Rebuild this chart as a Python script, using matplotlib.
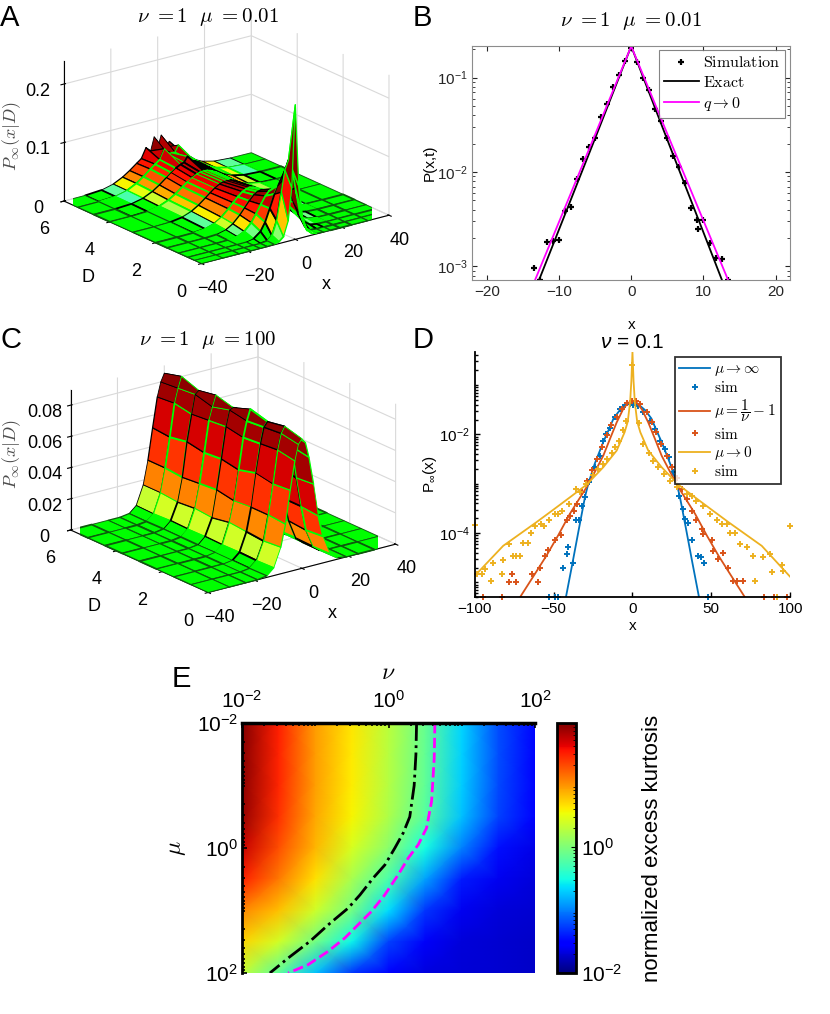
import numpy as np
import matplotlib
matplotlib.use('Agg')
import matplotlib.pyplot as plt
from matplotlib import colors, ticker
from matplotlib.font_manager import FontProperties

plt.rcParams['font.family'] = ['Liberation Sans', 'DejaVu Sans']
plt.rcParams['mathtext.fontset'] = 'custom'
plt.rcParams['mathtext.rm'] = 'Liberation Sans'
plt.rcParams['mathtext.it'] = 'Liberation Sans:italic'
plt.rcParams['mathtext.bf'] = 'Liberation Sans:bold'
plt.rcParams['mathtext.fallback'] = 'cm'
plt.rcParams['xtick.direction'] = 'in'
plt.rcParams['ytick.direction'] = 'in'

# ---------------- data ----------------
# panels A / C : half profile in x (mirrored), one row per D
surf_x_half = np.array([0, 1.5, 3, 5, 7, 9, 12, 15, 19, 24, 31, 40])
a_D = np.array([0, 0.3, 0.6, 1, 1.5, 2, 3, 4, 4.7, 5.4, 6])
a_P = np.array([
    [0.230, 0.090, 0.035, 0.010, 0.003, 0.0008, 0.0001, 0, 0, 0, 0, 0],
    [0.130, 0.115, 0.079, 0.032, 0.0086, 0.0014, 0.0001, 0, 0, 0, 0, 0],
    [0.088, 0.083, 0.070, 0.0475, 0.026, 0.012, 0.0025, 0.0003, 0, 0, 0, 0],
    [0.068, 0.066, 0.0595, 0.047, 0.033, 0.020, 0.008, 0.0024, 0.0003, 0, 0, 0],
    [0.058, 0.0566, 0.0526, 0.0443, 0.0342, 0.0242, 0.0122, 0.0051, 0.0012, 0.0001, 0, 0],
    [0.053, 0.052, 0.049, 0.0424, 0.0343, 0.0258, 0.0147, 0.0072, 0.0021, 0.0003, 0, 0],
    [0.047, 0.0463, 0.0442, 0.0395, 0.0335, 0.0268, 0.0173, 0.0099, 0.0039, 0.0009, 0.0001, 0],
    [0.046, 0.0454, 0.0435, 0.0394, 0.034, 0.0279, 0.0189, 0.0115, 0.005, 0.0013, 0.0001, 0],
    [0.058, 0.0494, 0.0474, 0.0433, 0.0377, 0.0313, 0.0217, 0.0136, 0.0062, 0.0018, 0.0002, 0],
    [0.052, 0.0514, 0.062, 0.0453, 0.0396, 0.0332, 0.0234, 0.015, 0.007, 0.0021, 0.0003, 0],
    [0.050, 0.070, 0.0476, 0.055, 0.0385, 0.0325, 0.0232, 0.0151, 0.0073, 0.0023, 0.0003, 0],
])
c_D = np.array([0, 0.75, 1.5, 2.25, 3, 3.75, 4.5, 5.25, 6])
c_P = np.array([
    [0.083, 0.080, 0.070, 0.052, 0.031, 0.017, 0.0050, 0.0010, 0, 0, 0, 0],
    [0.086, 0.082, 0.072, 0.051, 0.032, 0.016, 0.0046, 0.0008, 0, 0, 0, 0],
    [0.084, 0.081, 0.071, 0.053, 0.032, 0.017, 0.0049, 0.0009, 0, 0, 0, 0],
    [0.087, 0.080, 0.070, 0.050, 0.031, 0.018, 0.0047, 0.0010, 0, 0, 0, 0],
    [0.083, 0.082, 0.072, 0.052, 0.033, 0.016, 0.0050, 0.0008, 0, 0, 0, 0],
    [0.086, 0.079, 0.071, 0.051, 0.032, 0.017, 0.0048, 0.0009, 0, 0, 0, 0],
    [0.084, 0.082, 0.070, 0.053, 0.031, 0.016, 0.0051, 0.0010, 0, 0, 0, 0],
    [0.088, 0.081, 0.072, 0.051, 0.032, 0.017, 0.0046, 0.0008, 0, 0, 0, 0],
    [0.085, 0.080, 0.071, 0.052, 0.032, 0.017, 0.0049, 0.0009, 0, 0, 0, 0],
])

# panel B
b_sim_x = [-13.4, -12.65, -11.6, -10.8, -10.0, -9.1, -8.4, -7.5, -6.7, -5.85, -5.0, -4.2,
           -3.33, -2.5, -1.7, -0.87, 0.0, 0.82, 1.64, 2.47, 3.33, 4.16, 4.98, 5.8, 6.62,
           7.44, 8.26, 9.13, 9.2, 10.0, 10.96, 11.8, 12.6, 13.4]
b_sim_y = [9.6e-4, 7.2e-4, 1.8e-3, 1.88e-3, 1.9e-3, 3.9e-3, 4.3e-3, 8.4e-3, 0.0137, 0.0186,
           0.0228, 0.038, 0.052, 0.079, 0.106, 0.151, 0.204, 0.148, 0.100, 0.073, 0.047,
           0.035, 0.0228, 0.0148, 0.0114, 7.7e-3, 4.2e-3, 3.07e-3, 2.5e-3, 3.07e-3, 1.77e-3,
           1.22e-3, 1.2e-3, 7.2e-4]
b_exact_x = [-12.75, -10, -5, 0, 5, 10, 12.55]
b_exact_y = [7.2e-4, 2.45e-3, 0.0227, 0.215, 0.0219, 2.29e-3, 7.2e-4]
b_q0_x = [-13.3, -10, -5, 0, 5, 10, 13.4]
b_q0_y = [7.2e-4, 2.95e-3, 0.0249, 0.215, 0.0253, 3.05e-3, 7.2e-4]

# panel D
d_inf_x = [-42.2, -38, -34, -30, -28, -24, -18.5, -15, -12, -8, -4, 0,
           4, 8, 12, 15, 18.5, 24, 28, 30, 34, 38, 42.2]
d_inf_y = [5e-6, 2.5e-5, 1.2e-4, 5.6e-4, 1.0e-3, 2.5e-3, 7e-3, 0.0125, 0.021, 0.031, 0.040, 0.042,
           0.040, 0.031, 0.021, 0.0125, 7e-3, 2.5e-3, 1.0e-3, 5.6e-4, 1.2e-4, 2.5e-5, 5e-6]
d_mid_x = [-71.3, -62, -54.5, -47, -39.7, -34, -29.1, -24, -18.5, -14, -10, -6, -3, 0,
           3, 6, 10, 14, 18.5, 24, 29.1, 34, 39.7, 47, 54.5, 62, 71.3]
d_mid_y = [5e-6, 1.46e-5, 3.5e-5, 9.1e-5, 2.45e-4, 4.8e-4, 8.5e-4, 1.7e-3, 3.7e-3, 8.5e-3, 0.0175,
           0.032, 0.043, 0.048, 0.043, 0.032, 0.0175, 8.5e-3, 3.7e-3, 1.7e-3, 8.5e-4, 4.8e-4,
           2.45e-4, 9.1e-5, 3.5e-5, 1.46e-5, 5e-6]
d_zero_x = [-100, -82, -61, -50, -40, -29, -18.5, -10, -5, -3, -1.5, -0.7, 0,
            0.7, 1.5, 3, 5, 10, 18.5, 29, 40, 50, 61, 82, 100]
d_zero_y = [1.36e-5, 5.5e-5, 1.65e-4, 3.0e-4, 5.2e-4, 9.6e-4, 2.16e-3, 4.7e-3, 0.011, 0.018, 0.045,
            0.12, 0.47, 0.12, 0.045, 0.018, 0.011, 4.7e-3, 2.16e-3, 9.6e-4, 5.2e-4, 3.0e-4,
            1.65e-4, 5.5e-5, 1.3e-5]
d_inf_sim_x = [-52.8, -49.4, -47.3, -43.9, -41.8, -40.7, -37.5, -35.9, -33.8, -32.3, -30.2, -27.5,
               -23.9, -20.7, -18.6, -16.5, -14.4, -11.2, -8.0, -4.9, -1.7, 0.5, 3.5, 6.9, 11.1,
               14.3, 17.5, 20.6, 23.4, 25.9, 29.7, 32.3, 33.4, 35.5, 37.6, 41.8, 43.2, 45.3, 47.6]
d_inf_sim_y = [5e-6, 5e-6, 5e-6, 2e-5, 3.8e-5, 5.2e-5, 2.5e-5, 1.85e-4, 1.85e-4, 3.6e-4, 5.3e-4,
               1.1e-3, 2.2e-3, 3.7e-3, 7.5e-3, 0.0103, 0.0137, 0.0225, 0.033, 0.040, 0.041, 0.040,
               0.037, 0.028, 0.019, 0.013, 7.5e-3, 5.1e-3, 3.5e-3, 1.7e-3, 5.7e-4, 3.1e-4, 1.9e-4,
               1.6e-4, 7.1e-5, 3.5e-5, 3.2e-5, 2.5e-5, 5e-6]
d_mid_sim_x = [-94.6, -83.0, -78.2, -76.1, -74.0, -64.0, -59.8, -58.7, -55.6, -53.5, -49.2, -45.0,
               -41.8, -39.6, -37.1, -35.4, -32.3, -29.1, -25.9, -22.8, -19.6, -16.4, -13.3, -10.1,
               -6.9, -3.7, -0.6, 2.0, 4.8, 9.0, 12.1, 15.2, 18.4, 21.6, 24.8, 28.0, 31.1, 34.3,
               37.5, 40.6, 43.8, 44.9, 50.2, 51.3, 54.5, 57.7, 60.8, 64.0, 66.2, 70.4, 83.1, 89.5, 97.9]
d_mid_sim_y = [5e-6, 5e-6, 1e-5, 1.5e-5, 1e-5, 1.5e-5, 1e-5, 2e-5, 3.5e-5, 4.6e-5, 7.1e-5, 9.3e-5,
               1.8e-4, 2.2e-4, 2.85e-4, 3.9e-4, 6.7e-4, 1.16e-3, 1.86e-3, 3.2e-3, 5.5e-3, 9.5e-3,
               0.0152, 0.023, 0.033, 0.044, 0.048, 0.047, 0.042, 0.029, 0.0178, 0.011, 6.5e-3,
               3.7e-3, 2.2e-3, 1.3e-3, 7.9e-4, 4.9e-4, 2.85e-4, 1.8e-4, 1.2e-4, 9.5e-5, 7.1e-5,
               4.4e-5, 3e-5, 4e-5, 2e-5, 1.07e-5, 1.07e-5, 1.05e-5, 5e-6, 5e-6, 5e-6]
d_zero_sim_x = [-100, -98.5, -95.7, -93.6, -90.0, -88.4, -82.6, -82.0, -78.2, -75.7, -73.6, -71.5,
                -69.7, -66.1, -64.6, -61.9, -58.3, -56.2, -52.8, -49.2, -47.1, -44.6, -40.1, -35.9,
                -33.4, -29.5, -24.9, -21.7, -18.5, -16.4, -13.2, -11.1, -8.4, -5.8, -4.2, 0, 4.2,
                7.0, 10.2, 13.3, 16.5, 19.7, 23.9, 28.5, 34.3, 37.5, 40.6, 44.9, 49.1, 53.3, 56.5,
                59.7, 61.8, 65.0, 68.2, 72.4, 76.6, 77.6, 82.9, 87.1, 88.2, 91.6, 94.6, 95.6, 99.9]
d_zero_sim_y = [1.46e-4, 1.5e-5, 1.5e-5, 1.9e-5, 1.05e-5, 2.5e-5, 1.5e-5, 2.9e-5, 6.1e-5, 3.5e-5,
                3.5e-5, 3.5e-5, 6.4e-5, 6.4e-5, 9.9e-5, 1.4e-4, 1.5e-4, 1.4e-4, 1.8e-4, 2.45e-4,
                2.45e-4, 2.75e-4, 3.9e-4, 7.9e-4, 6.8e-4, 1e-3, 1.5e-3, 2e-3, 2.5e-3, 3.2e-3,
                4.1e-3, 5.5e-3, 7.5e-3, 0.012, 0.019, 0.25, 0.017, 6.5e-3, 4.1e-3, 2.95e-3,
                2.2e-3, 1.6e-3, 1.16e-3, 8.5e-4, 6.2e-4, 5.7e-4, 4.5e-4, 3.6e-4, 2.45e-4, 1.8e-4,
                1.5e-4, 1.5e-4, 1e-4, 1e-4, 6e-5, 5.1e-5, 3.5e-5, 1.07e-5, 3.2e-5, 3.8e-5,
                1.6e-5, 5e-6, 2.3e-5, 1.7e-5, 1.4e-4]

# panel E: log10 of normalized excess kurtosis on a (mu, nu) grid
e_nu_exp = [-2, -1.5, -1, -0.5, 0, 0.5, 1, 1.5, 2]
e_mu_exp = [-2, -1.5, -1, -0.5, 0, 0.5, 1, 1.5, 2]
e_logk = np.array([
    [1.95, 1.48, 0.96, 0.64, 0.28, -0.12, -0.68, -1.20, -1.48],
    [1.93, 1.47, 0.95, 0.63, 0.27, -0.13, -0.69, -1.20, -1.49],
    [1.92, 1.45, 0.94, 0.62, 0.26, -0.15, -0.70, -1.22, -1.50],
    [1.88, 1.40, 0.90, 0.58, 0.22, -0.20, -0.75, -1.25, -1.52],
    [1.72, 1.28, 0.84, 0.42, 0.06, -0.50, -1.00, -1.45, -1.64],
    [1.48, 1.10, 0.66, 0.20, -0.25, -0.88, -1.40, -1.60, -1.68],
    [1.04, 0.80, 0.38, -0.05, -0.65, -1.30, -1.60, -1.68, -1.72],
    [0.72, 0.40, -0.05, -0.55, -1.25, -1.58, -1.68, -1.72, -1.74],
    [0.32, -0.17, -0.75, -1.30, -1.55, -1.66, -1.70, -1.72, -1.75],
])
e_black_nu = [0.383, 0.374, 0.35, 0.29, 0.2, 0.086, -0.05, -0.21, -0.39, -0.55, -0.825, -1.07, -1.37, -1.62]
e_black_mu = [-2.0, -1.5, -1.0, -0.5, -0.24, 0.0, 0.27, 0.48, 0.75, 0.96, 1.23, 1.49, 1.76, 2.0]
e_mag_nu = [0.633, 0.624, 0.588, 0.519, 0.405, 0.269, 0.132, -0.05, -0.232, -0.415, -0.597, -0.825, -1.098, -1.371]
e_mag_mu = [-2.0, -1.44, -0.747, -0.32, -0.053, 0.16, 0.427, 0.747, 1.013, 1.227, 1.44, 1.653, 1.867, 2.0]

ml_blue = (0, 0.447, 0.741)
ml_red = (0.85, 0.325, 0.098)
ml_yel = (0.929, 0.694, 0.125)
lime = (0, 1, 0, 1)

fig = plt.figure(figsize=(8.3, 10.14), dpi=100)


def surface_panel(rect, Ds, Ph, zmax, zticks, cnorm, title, ty, zlab_y):
    x = np.concatenate([-surf_x_half[:0:-1], surf_x_half])
    P = np.array([np.concatenate([r[:0:-1], r]) for r in Ph])
    X, Dg = np.meshgrid(x, Ds)
    ax = fig.add_axes(rect, projection='3d')
    fc = plt.cm.jet(cnorm(np.clip(P, 1e-7, None)))
    fc[P < 0.0015] = lime
    surf = ax.plot_surface(X, Dg, P, facecolors=fc, edgecolor='k', linewidth=0.7,
                           shade=False, rstride=1, cstride=1)
    # edge colours per face: every other row of faces outlined in green
    nr, nc = P.shape[0] - 1, P.shape[1] - 1
    ec, lw = [], []
    for r in range(nr):
        for c in range(nc):
            flat = P[r:r + 2, c:c + 2].max() < 0.0015
            if flat:
                ec.append((0.05, 0.35, 0.05, 1))
                lw.append(0.6)
            elif r % 2 == 0:
                ec.append(lime)
                lw.append(1.3)
            else:
                ec.append((0, 0, 0, 1))
                lw.append(0.9)
    surf.set_edgecolor(ec)
    surf.set_linewidth(lw)
    ax.view_init(elev=20, azim=-127)
    ax.set_proj_type('ortho')
    ax.set_box_aspect((1.57, 1.53, 1.0), zoom=1.17)
    ax.set_xlim(-40, 40)
    ax.set_ylim(0, 6)
    ax.set_zlim(0, zmax)
    ax.set_xticks([-40, -20, 0, 20, 40])
    ax.set_yticks([0, 2, 4, 6])
    ax.set_zticks(zticks)
    ax.zaxis.set_major_formatter(ticker.FormatStrFormatter('%g'))
    for a in (ax.xaxis, ax.yaxis, ax.zaxis):
        a.set_pane_color((1, 1, 1, 0))
        a._axinfo['grid'].update(color=(0.85, 0.85, 0.85, 1), linewidth=0.8)
    ax.tick_params(labelsize=13, pad=1)
    ax.tick_params(axis='y', pad=4)
    ax.tick_params(axis='z', pad=1)
    ax.set_xlabel('x', fontsize=13, labelpad=4)
    ax.set_ylabel('D', fontsize=13, labelpad=6)
    ax.set_zlabel('')
    fig.text(0.25, ty, title, fontsize=15, ha='center', va='center', math_fontfamily='cm')
    # z label of the 3d box, placed beside the z tick labels
    fig.text(0.014, zlab_y, r'$P_\infty(x|D)$', fontsize=13, math_fontfamily='cm',
             color='0.3', rotation=90, ha='center', va='center')
    return ax


surface_panel([0.088, 0.712, 0.36, 0.296], a_D, a_P, 0.24, [0, 0.1, 0.2],
              colors.LogNorm(1e-4, 0.07), r'$\nu\ {=}1\ \ \mu\ {=}0.01$', 0.983, 0.866)
surface_panel([0.096, 0.3876, 0.36, 0.296], c_D, c_P, 0.09, [0, 0.02, 0.04, 0.06, 0.08],
              colors.LogNorm(6e-5, 0.09), r'$\nu\ {=}1\ \ \mu\ {=}100$', 0.665, 0.552)

# ---------- panel B ----------
axb = fig.add_axes([0.569, 0.724, 0.383, 0.231])
axb.semilogy(b_sim_x, b_sim_y, '+', color='k', ms=5, mew=1.6, label=r'$\mathrm{Simulation}$')
axb.semilogy(b_exact_x, b_exact_y, '-', color='k', lw=1.3, label=r'$\mathrm{Exact}$')
axb.semilogy(b_q0_x, b_q0_y, '-', color=(1, 0, 1), lw=1.3, label=r'$q \rightarrow 0$')
axb.set_xlim(-22, 22)
axb.set_ylim(7.2e-4, 0.218)
axb.set_xticks([-20, -10, 0, 10, 20])
axb.tick_params(which='both', top=True, right=True, labelsize=11, colors='0.15')
for s in axb.spines.values():
    s.set_color('0.55')
axb.set_xlabel('x', fontsize=11, labelpad=14)
axb.set_ylabel('P(x,t)', fontsize=11, labelpad=0)
axb.set_title(r'$\nu\ {=}1\ \ \mu\ {=}0.01$', fontsize=15, math_fontfamily='cm', pad=14)
lg = axb.legend(loc='upper right', prop=FontProperties(size=11.5, math_fontfamily='cm'),
                fancybox=False, edgecolor='0.4', borderaxespad=0.3, handlelength=2.2,
                handletextpad=0.3, borderpad=0.3, labelspacing=0.3)
lg.get_frame().set_linewidth(0.8)

# ---------- panel D ----------
axd = fig.add_axes([0.572, 0.411, 0.380, 0.242])
axd.semilogy(d_inf_x, d_inf_y, '-', color=ml_blue, lw=1.3, label=r'$\mu \rightarrow \infty$')
axd.semilogy(d_inf_sim_x, d_inf_sim_y, '+', color=ml_blue, ms=4, mew=1.4, clip_on=False, label=r'$\mathrm{sim}$')
axd.semilogy(d_mid_x, d_mid_y, '-', color=ml_red, lw=1.3, label=r'$\mu = \dfrac{1}{\nu} - 1$')
axd.semilogy(d_mid_sim_x, d_mid_sim_y, '+', color=ml_red, ms=4, mew=1.4, clip_on=False, label=r'$\mathrm{sim}$')
axd.semilogy(d_zero_x, d_zero_y, '-', color=ml_yel, lw=1.3, label=r'$\mu \rightarrow 0$')
axd.semilogy(d_zero_sim_x, d_zero_sim_y, '+', color=ml_yel, ms=4, mew=1.4, clip_on=False, label=r'$\mathrm{sim}$')
axd.set_xlim(-100, 100)
axd.set_ylim(5e-6, 0.47)
axd.set_xticks([-100, -50, 0, 50, 100])
axd.yaxis.set_major_locator(ticker.FixedLocator([1e-4, 1e-2]))
axd.yaxis.set_minor_locator(ticker.LogLocator(base=10, subs=np.arange(1, 10), numticks=20))
axd.yaxis.set_minor_formatter(ticker.NullFormatter())
axd.spines['top'].set_visible(False)
axd.spines['right'].set_visible(False)
for s in ('left', 'bottom'):
    axd.spines[s].set_linewidth(1.3)
axd.tick_params(which='both', labelsize=11, width=1.0)
axd.set_xlabel('x', fontsize=11, labelpad=2)
axd.set_ylabel(r'P$_\infty$(x)', fontsize=11, labelpad=0)
axd.set_title(r'$\nu$ = 0.1', fontsize=15, pad=2)
lg = axd.legend(loc='upper right', prop=FontProperties(size=11, math_fontfamily='cm'),
                fancybox=False, edgecolor='k', borderaxespad=0.2, handlelength=2.0,
                handletextpad=0.3, borderpad=0.3, labelspacing=0.15, bbox_to_anchor=(0.98, 0.99))
lg.get_frame().set_linewidth(1.3)

# ---------- panel E ----------
axe = fig.add_axes([0.2916, 0.0404, 0.353, 0.2465])
NU, MU = np.meshgrid(10.0 ** np.array(e_nu_exp), 10.0 ** np.array(e_mu_exp))
pm = axe.pcolormesh(NU, MU, 10.0 ** e_logk, shading='gouraud', cmap='jet',
                    norm=colors.LogNorm(1e-2, 10 ** 1.97))
axe.plot(10.0 ** np.array(e_black_nu), 10.0 ** np.array(e_black_mu), color='k', ls='-.', lw=2.0)
axe.plot(10.0 ** np.array(e_mag_nu), 10.0 ** np.array(e_mag_mu), color=(1, 0, 1), ls='--', lw=2.0)
axe.set_xscale('log')
axe.set_yscale('log')
axe.set_xlim(1e-2, 1e2)
axe.set_ylim(1e2, 1e-2)
axe.xaxis.tick_top()
axe.xaxis.set_label_position('top')
for a in (axe.xaxis, axe.yaxis):
    a.set_major_locator(ticker.FixedLocator([1e-2, 1, 1e2]))
    a.set_minor_locator(ticker.LogLocator(base=10, subs=np.arange(1, 10), numticks=20))
    a.set_minor_formatter(ticker.NullFormatter())
axe.spines['right'].set_visible(False)
axe.spines['bottom'].set_visible(False)
axe.spines['top'].set_linewidth(2.5)
axe.spines['left'].set_linewidth(2.0)
axe.tick_params(which='both', labelsize=15, width=1.2, top=True, bottom=False)
axe.tick_params(axis='x', pad=8)
axe.tick_params(axis='y', pad=3)
axe.set_xlabel(r'$\nu$', fontsize=17, math_fontfamily='cm', labelpad=8)
axe.set_ylabel(r'$\mu$', fontsize=17, math_fontfamily='cm', labelpad=6)

cax = fig.add_axes([0.671, 0.0404, 0.0229, 0.2465])
cb = fig.colorbar(pm, cax=cax)
cb.set_ticks([1e-2, 1])
cb.ax.tick_params(labelsize=15, which='both', direction='in')
cb.outline.set_linewidth(2.0)
cb.set_label('normalized excess kurtosis', fontsize=16, labelpad=14)

# panel letters
for lab, x, y in [('A', 0.0, 0.982), ('B', 0.497, 0.982), ('C', 0.0, 0.665),
                  ('D', 0.497, 0.665), ('E', 0.207, 0.33)]:
    fig.text(x, y, lab, fontsize=21, ha='left', va='center')

fig.savefig('out.png', dpi=100)
